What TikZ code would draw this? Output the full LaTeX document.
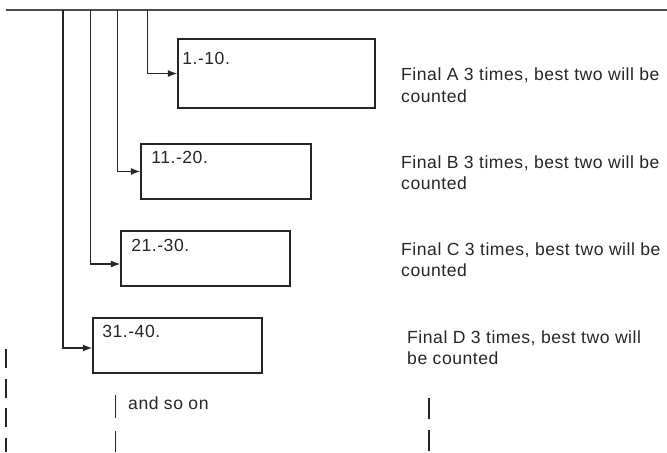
\documentclass[tikz,border=0pt]{standalone}
\usepackage{fontspec}
\setmainfont{Liberation Sans}[LetterSpace=3]
\usetikzlibrary{arrows.meta}

\tikzset{
	numbox/.style={draw=black!85, line width=1.5pt, minimum width=#1, minimum height=1.65cm, inner sep=0pt},
	numtxt/.style={anchor=north west, inner sep=0pt, text=black!85, font=\fontsize{15pt}{18.2pt}\selectfont},
	note/.style={anchor=west, align=left, inner sep=0pt, text=black!85, font=\fontsize{15pt}{18.2pt}\selectfont},
	feed/.style={draw=black!85, line width=0.9pt, -{Latex[length=2.8mm,width=2.1mm]}},
	cont/.style={draw=black!85, line width=1.2pt}
}

\begin{document}
\begin{tikzpicture}
		\useasboundingbox (0,0) rectangle (20.01,13.56);
		% top line
		\draw[black!70, line width=1.1pt] (0.18,13.26) -- (20.01,13.26);
		\coordinate (t1) at (1.89,13.26);
		\coordinate (t2) at (2.72,13.26);
		\coordinate (t3) at (3.52,13.26);
		\coordinate (t4) at (4.43,13.26);
		% boxes
		\node[numbox=5.91cm, minimum height=2.07cm] (b1) at (8.295,11.355) {};
		\node[numbox=5.1cm] (b2) at (6.78,8.415) {};
		\node[numbox=5.07cm] (b3) at (6.165,5.805) {};
		\node[numbox=5.07cm] (b4) at (5.325,3.195) {};
		\node[numtxt] (n1) at ([shift={(0.15,-0.42)}]b1.north west) {1.-10.};
		\node[numtxt] (n2) at ([shift={(0.33,-0.25)}]b2.north west) {11.-20.};
		\node[numtxt] (n3) at ([shift={(0.33,-0.28)}]b3.north west) {21.-30.};
		\node[numtxt] (n4) at ([shift={(0.30,-0.25)}]b4.north west) {31.-40.};
		% arrows
		\draw[feed] (t4) |- (b1.west);
		\draw[feed] (t3) |- (b2.west);
		\draw[feed] (t2) |- ([yshift=-1.65mm]b3.west);
		\draw[feed] (t1) |- ([yshift=-0.75mm]b4.west);
		% text
		\node[note] (fa) at (12.03,11.0) {Final A 3 times, best two will be\\counted};
		\node[note] (fb) at (12.03,8.37) {Final B 3 times, best two will be\\counted};
		\node[note] (fc) at (12.03,5.76) {Final C 3 times, best two will be\\counted};
		\node[note] (fd) at (12.21,3.12) {Final D 3 times, best two will\\be counted};
		\node[note] (more) at (3.84,1.47) {and so on};
		% and so on
		\draw[cont, dash pattern=on 0.57cm off 0.32cm] (0.18,3.09) -- (0.18,0);
		\draw[cont, dash pattern=on 0.69cm off 0.39cm] (3.47,1.71) -- (3.47,0);
		\draw[cont, dash pattern=on 0.63cm off 0.33cm] (12.87,1.62) -- (12.87,0);
	\end{tikzpicture}
\end{document}
